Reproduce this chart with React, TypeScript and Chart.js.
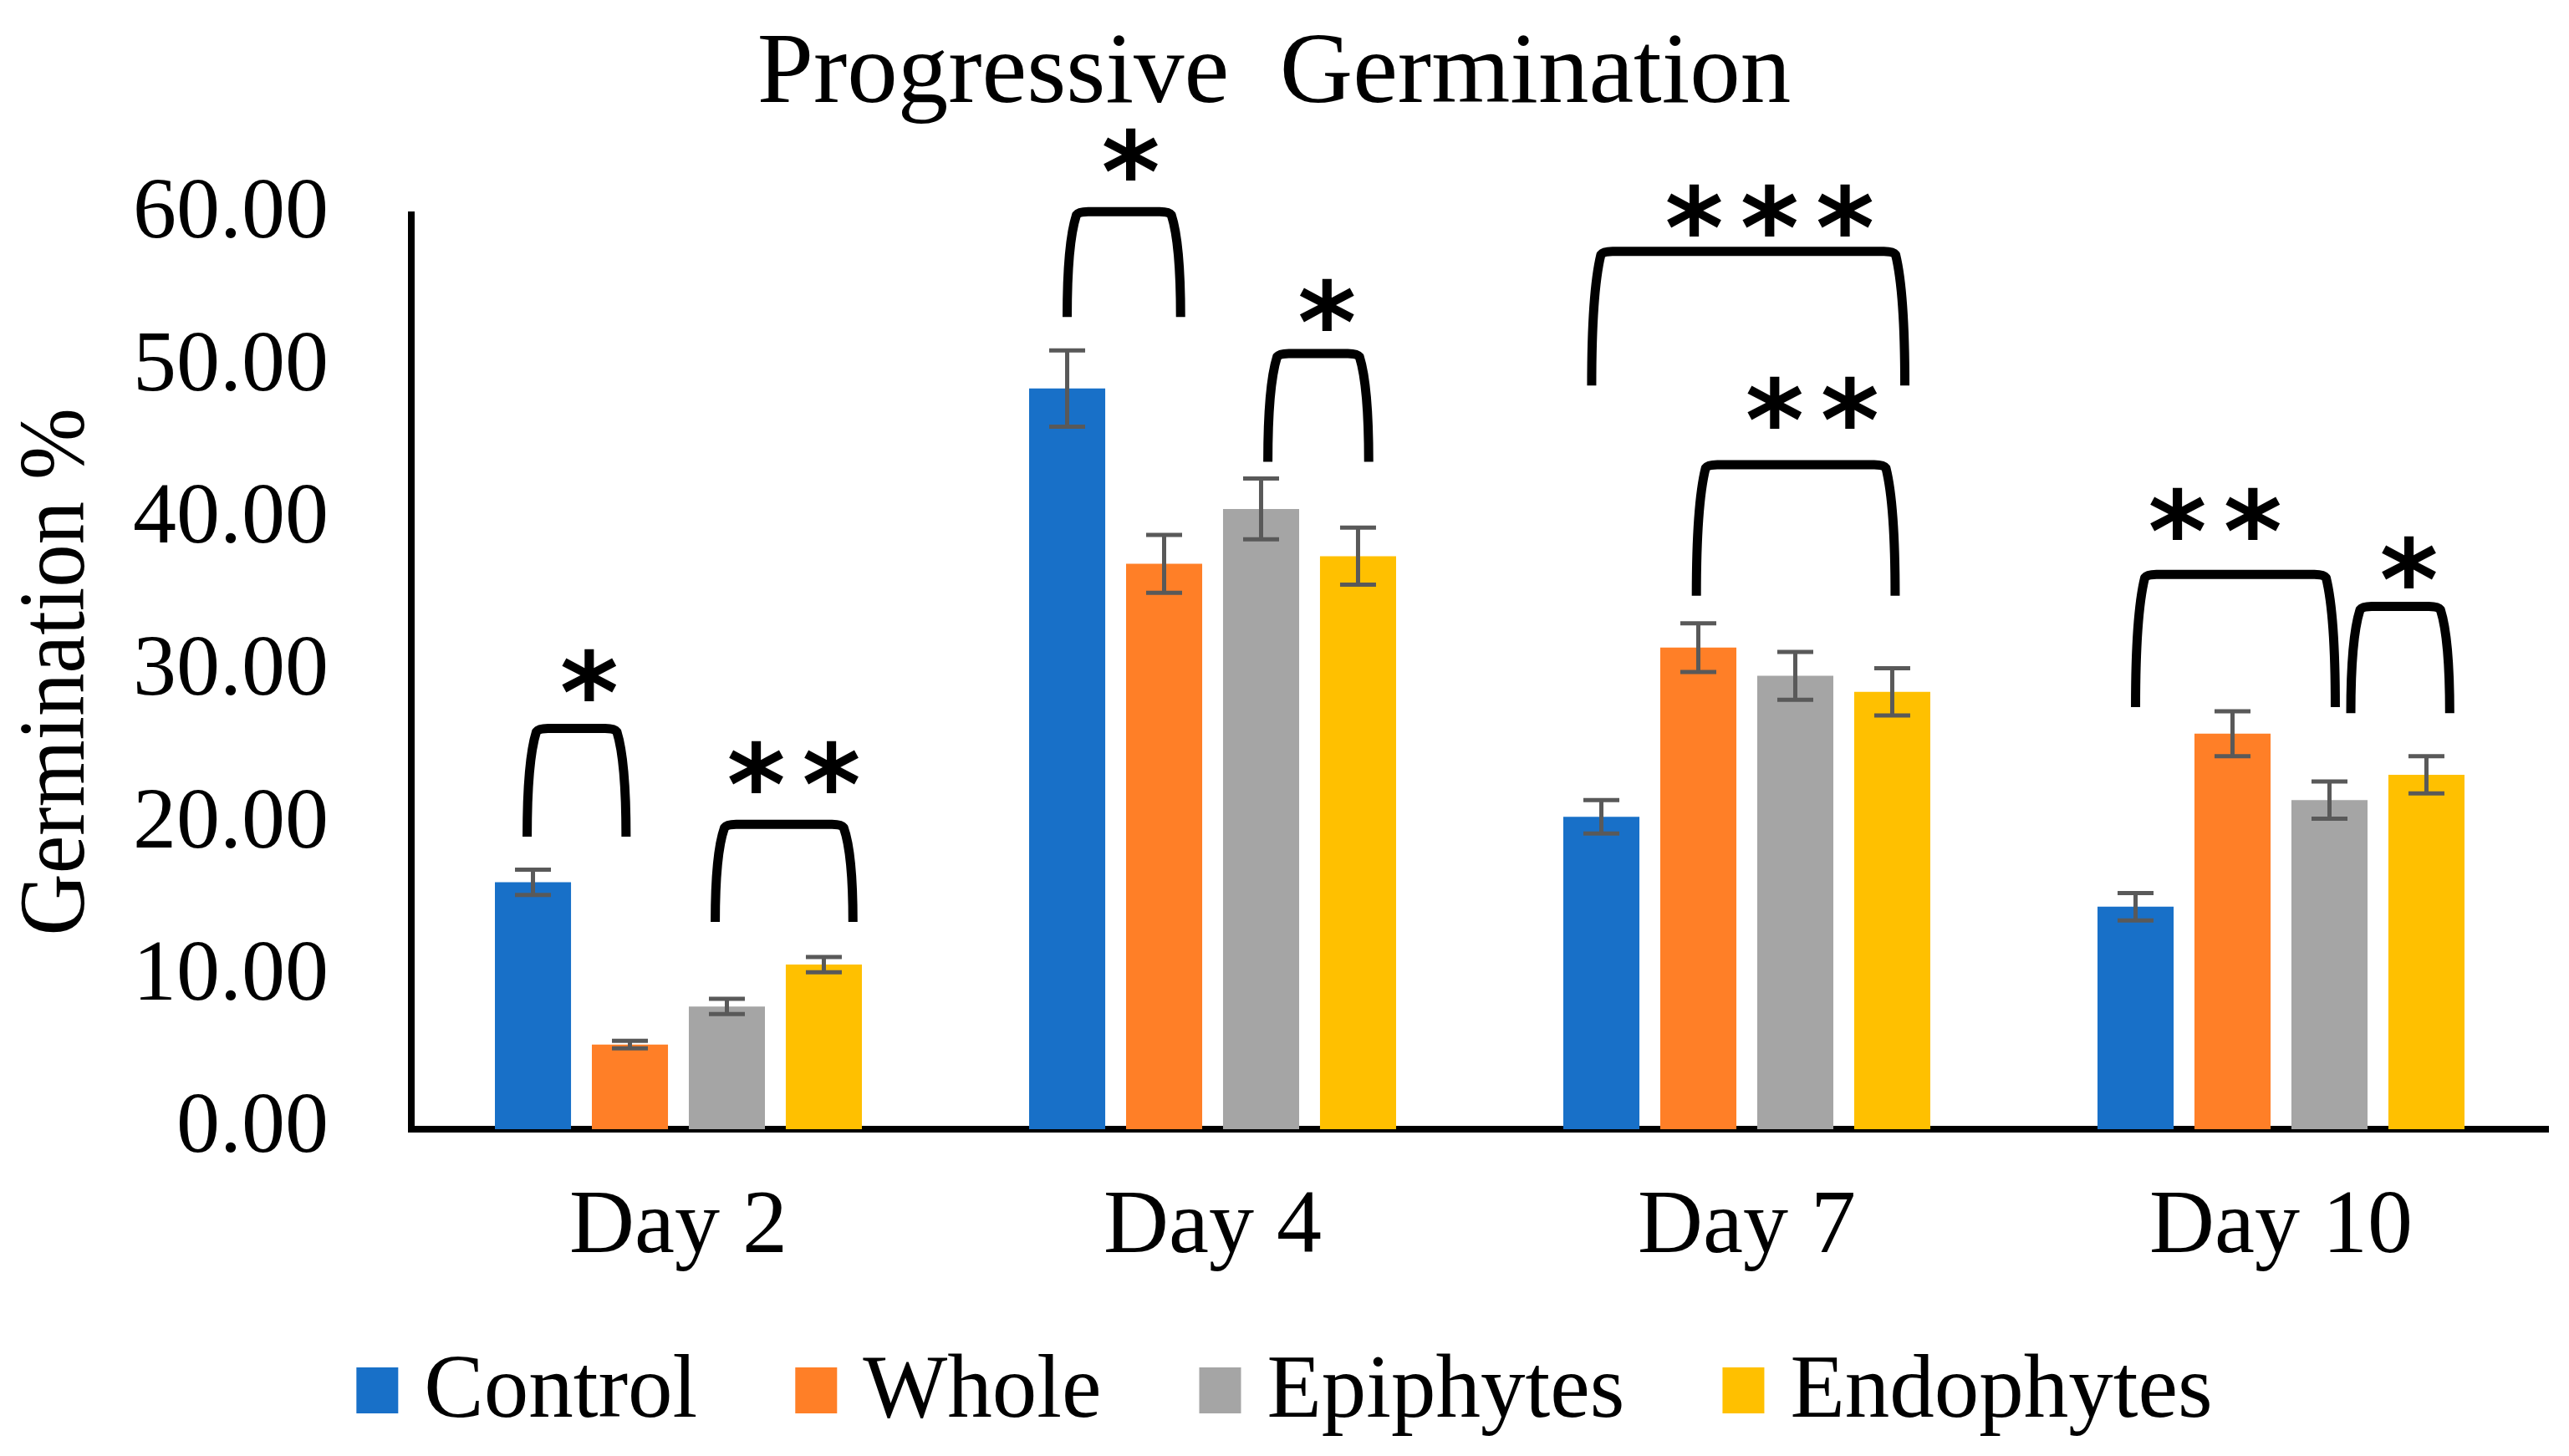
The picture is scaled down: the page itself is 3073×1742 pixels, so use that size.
import { useEffect, useRef } from 'react';
import { Chart, registerables } from 'chart.js';

Chart.register(...registerables);

// ---------- data ----------
const categories = ['Day 2', 'Day 4', 'Day 7', 'Day 10'];
const seriesNames = ['Control', 'Whole', 'Epiphytes', 'Endophytes'];
const controlValues = [16.2, 48.6, 20.5, 14.6];
const wholeValues = [5.55, 37.1, 31.6, 25.95];
const epiphyteValues = [8.05, 40.7, 29.75, 21.6];
const endophyteValues = [10.8, 37.6, 28.7, 23.25];
const controlErrors = [0.83, 2.5, 1.1, 0.9];
const wholeErrors = [0.25, 1.9, 1.6, 1.47];
const epiphyteErrors = [0.5, 2.0, 1.57, 1.22];
const endophyteErrors = [0.5, 1.87, 1.55, 1.22];
const yTickLabels = ['0.00', '10.00', '20.00', '30.00', '40.00', '50.00', '60.00'];
const titleText = 'Progressive  Germination';
const yTitleText = 'Germination %';

// significance brackets (group index, series from/to, bracket top & leg bottom in value units, label)
const bracketGroups = [0, 0, 1, 1, 2, 2, 3, 3];
const bracketFrom = [0, 2, 0, 2, 0, 1, 0, 2];
const bracketTo = [1, 3, 1, 3, 3, 3, 2, 3];
const bracketTop = [26.3, 20.0, 60.2, 50.9, 57.6, 43.6, 36.4, 34.3];
const bracketBottom = [19.2, 13.6, 53.3, 43.8, 48.8, 35.0, 27.7, 27.3];
const bracketLabels = ['*', '**', '*', '*', '***', '**', '**', '*'];
const bracketLabelLevel = [29.8, 23.8, 64.0, 54.1, 60.3, 47.7, 40.4, 37.2];

// ---------- styling ----------
const COLORS = ['#1870C8', '#FF7F27', '#A5A5A5', '#FFC000'];
const SERIF = "'Liberation Serif', 'Times New Roman', serif";
// small horizontal nudges of bracket legs / labels, in bar-slot units
const NUDGE_FROM = [-0.06, -0.12, 0, 0.07, -0.1, -0.02, 0, 0.22];
const NUDGE_TO = [-0.04, 0.3, 0.17, 0.11, 0.13, 0.03, 0.06, 0.24];
const NUDGE_LABEL = [0.13, 0.1, 0.07, 0.09, 0.22, 0.17, -0.21, 0.09];

export default function App() {
  const ref = useRef<HTMLCanvasElement>(null);

  useEffect(() => {
    document.body.style.margin = '0';
    document.body.style.overflow = 'hidden';
    const canvas = ref.current!;
    const values = [controlValues, wholeValues, epiphyteValues, endophyteValues];
    const errors = [controlErrors, wholeErrors, epiphyteErrors, endophyteErrors];

    const overlay = {
      id: 'overlay',
      afterDatasetsDraw(chart: any) {
        const ctx = chart.ctx;
        const y = chart.scales.y;
        ctx.save();
        ctx.strokeStyle = '#595959';
        ctx.lineWidth = 5;
        ctx.lineCap = 'butt';
        values.forEach((vals, d) => {
          const meta = chart.getDatasetMeta(d);
          meta.data.forEach((bar: any, i: number) => {
            const top = y.getPixelForValue(vals[i] + errors[d][i]);
            const bot = y.getPixelForValue(vals[i] - errors[d][i]);
            const half = 21.5;
            ctx.beginPath();
            ctx.moveTo(bar.x, top);
            ctx.lineTo(bar.x, bot);
            ctx.moveTo(bar.x - half, top);
            ctx.lineTo(bar.x + half, top);
            ctx.moveTo(bar.x - half, bot);
            ctx.lineTo(bar.x + half, bot);
            ctx.stroke();
          });
        });
        ctx.restore();
      },
      afterDraw(chart: any) {
        const ctx = chart.ctx;
        const y = chart.scales.y;
        const ca = chart.chartArea;
        const m0 = chart.getDatasetMeta(0);
        const m1 = chart.getDatasetMeta(1);
        const slot = m1.data[0].x - m0.data[0].x;
        const barW = m0.data[0].width;

        // brackets
        ctx.save();
        ctx.strokeStyle = '#000';
        ctx.fillStyle = '#000';
        ctx.lineWidth = 11;
        ctx.lineJoin = 'round';
        ctx.lineCap = 'butt';
        ctx.font = `bold 100px 'DejaVu Sans'`;
        const mm = ctx.measureText('*');
        const gh = mm.actualBoundingBoxAscent + mm.actualBoundingBoxDescent;
        const starSize = (100 * 63) / gh;
        ctx.font = `bold ${starSize}px 'DejaVu Sans'`;
        const sm = ctx.measureText('*');
        for (let k = 0; k < bracketGroups.length; k++) {
          const g = bracketGroups[k];
          const xL = chart.getDatasetMeta(bracketFrom[k]).data[g].x + NUDGE_FROM[k] * slot;
          const xR = chart.getDatasetMeta(bracketTo[k]).data[g].x + NUDGE_TO[k] * slot;
          const yT = y.getPixelForValue(bracketTop[k]);
          const yB = y.getPixelForValue(bracketBottom[k]);
          const h = yB - yT;
          const inset = 11;
          ctx.beginPath();
          ctx.moveTo(xL, yB);
          ctx.bezierCurveTo(xL, yB - h * 0.55, xL + inset * 0.45, yT + h * 0.18, xL + inset, yT + 4);
          ctx.quadraticCurveTo(xL + inset + 3, yT, xL + inset + 14, yT);
          ctx.lineTo(xR - inset - 14, yT);
          ctx.quadraticCurveTo(xR - inset - 3, yT, xR - inset, yT + 4);
          ctx.bezierCurveTo(xR - inset * 0.45, yT + h * 0.18, xR, yB - h * 0.55, xR, yB);
          ctx.stroke();

          const n = bracketLabels[k].length;
          const cx = (xL + xR) / 2 + NUDGE_LABEL[k] * slot;
          const cy = y.getPixelForValue(bracketLabelLevel[k]);
          const spacing = barW * 0.99;
          ctx.textAlign = 'left';
          ctx.textBaseline = 'alphabetic';
          for (let j = 0; j < n; j++) {
            const sx = cx + (j - (n - 1) / 2) * spacing;
            const x0 = sx - (sm.actualBoundingBoxRight - sm.actualBoundingBoxLeft) / 2;
            const yb = cy + (sm.actualBoundingBoxAscent - sm.actualBoundingBoxDescent) / 2;
            ctx.fillText('*', x0, yb);
          }
        }
        ctx.restore();

        // y-axis title (slightly condensed serif, as in the reference)
        ctx.save();
        ctx.translate(ca.left - 392, (ca.top + ca.bottom) / 2);
        ctx.rotate(-Math.PI / 2);
        ctx.scale(0.91, 1);
        ctx.font = `113px ${SERIF}`;
        ctx.fillStyle = '#000';
        ctx.textAlign = 'center';
        ctx.textBaseline = 'alphabetic';
        ctx.fillText(yTitleText, 0, 0);
        ctx.restore();

        // legend
        ctx.save();
        ctx.font = `107px ${SERIF}`;
        const widths = seriesNames.map((s) => ctx.measureText(s).width);
        const boxW = 50, boxH = 55, gapText = 31, gapItem = 117;
        const total = widths.reduce((a, w) => a + boxW + gapText + w, 0) + gapItem * (seriesNames.length - 1);
        let x = chart.width / 2 - total / 2;
        const boxTop = chart.height - 106;
        const baseline = chart.height - 47;
        ctx.textAlign = 'left';
        ctx.textBaseline = 'alphabetic';
        seriesNames.forEach((s, i) => {
          ctx.fillStyle = COLORS[i];
          ctx.fillRect(x, boxTop, boxW, boxH);
          ctx.fillStyle = '#000';
          ctx.fillText(s, x + boxW + gapText, baseline);
          x += boxW + gapText + widths[i] + gapItem;
        });
        ctx.restore();
      },
    };

    const chart = new Chart(canvas, {
      type: 'bar',
      data: {
        labels: categories,
        datasets: seriesNames.map((n, i) => ({
          label: n,
          data: values[i],
          backgroundColor: COLORS[i],
          borderWidth: 0,
          barPercentage: 0.785,
          categoryPercentage: 0.726,
        })),
      },
      options: {
        responsive: false,
        animation: false,
        devicePixelRatio: 1,
        layout: { padding: { left: 0, right: 25, top: 0, bottom: 191 } },
        plugins: {
          legend: { display: false },
          tooltip: { enabled: false },
          title: {
            display: true,
            text: titleText,
            color: '#000',
            font: { family: SERIF, size: 121, weight: 'normal', lineHeight: 1.2 },
            padding: { top: 18, bottom: 93.8 },
          },
        },
        scales: {
          x: {
            grid: { display: false, drawTicks: false },
            border: { display: true, color: '#000', width: 8 },
            ticks: { color: '#000', font: { family: SERIF, size: 108 }, padding: 54 },
            afterFit: (s: any) => {
              s.height = 200;
            },
          },
          y: {
            min: 0,
            max: 60,
            grid: { display: false, drawTicks: false },
            border: { display: true, color: '#000', width: 8 },
            ticks: {
              stepSize: 10,
              color: '#000',
              font: { family: SERIF, size: 104 },
              padding: 99,
              callback: (_v: any, idx: number) => yTickLabels[idx],
            },
            afterFit: (s: any) => {
              s.width = 492;
            },
          },
        },
      } as any,
      plugins: [overlay],
    });

    return () => chart.destroy();
  }, []);

  return (
    <div style={{ position: 'fixed', left: 0, top: 0, width: 3073, height: 1742, background: '#fff' }}>
      <canvas ref={ref} width={3073} height={1742} style={{ width: 3073, height: 1742, display: 'block' }} />
    </div>
  );
}
